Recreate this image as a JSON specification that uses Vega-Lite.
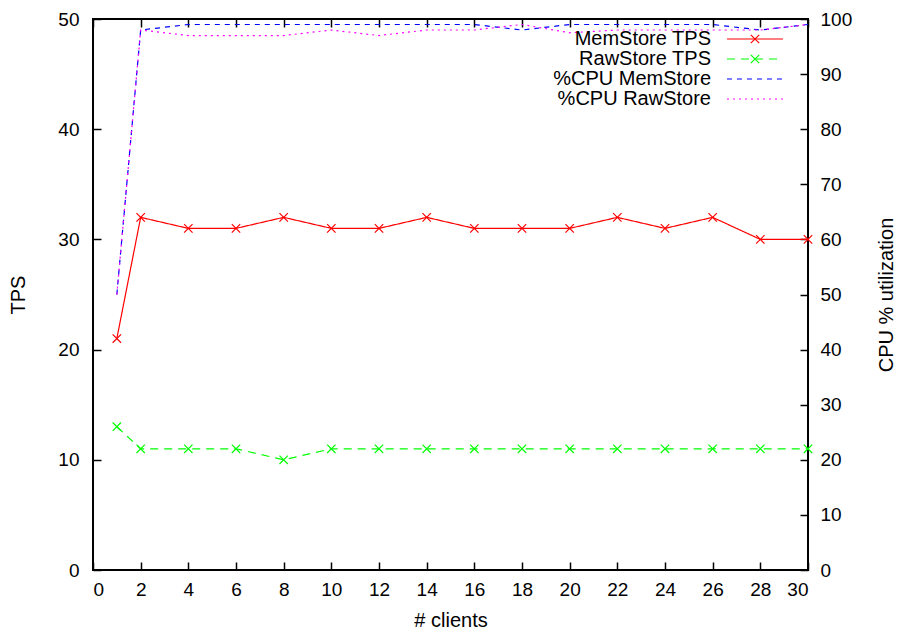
{
  "$schema": "https://vega.github.io/schema/vega-lite/v6.json",
  "width": 715,
  "height": 551,
  "autosize": {"type": "none"},
  "padding": {"left": 93, "top": 19, "right": 90, "bottom": 60},
  "background": "white",
  "config": {
    "view": {"stroke": "#000", "strokeWidth": 2},
    "font": "Liberation Sans",
    "axis": {
      "domain": false, "grid": false, "tickColor": "#000", "tickWidth": 1.5, "tickSize": -8,
      "labelFontSize": 19, "labelColor": "#000", "labelFont": "Liberation Sans",
      "titleFontSize": 20, "titleFontWeight": "normal", "titleColor": "#000", "titleFont": "Liberation Sans"
    },
    "legend": {
      "orient": "none", "padding": 0, "labelFontSize": 20, "labelFont": "Liberation Sans", "labelColor": "#000",
      "labelAlign": "right", "labelOffset": -54, "symbolSize": 196, "symbolStrokeWidth": 1.2,
      "rowPadding": 0, "legendX": 652, "legendY": 10, "labelLimit": 300
    }
  },
  "data": {
    "values": [
      {"clients": 1, "series": "MemStore TPS", "value": 21},
      {"clients": 2, "series": "MemStore TPS", "value": 32},
      {"clients": 4, "series": "MemStore TPS", "value": 31},
      {"clients": 6, "series": "MemStore TPS", "value": 31},
      {"clients": 8, "series": "MemStore TPS", "value": 32},
      {"clients": 10, "series": "MemStore TPS", "value": 31},
      {"clients": 12, "series": "MemStore TPS", "value": 31},
      {"clients": 14, "series": "MemStore TPS", "value": 32},
      {"clients": 16, "series": "MemStore TPS", "value": 31},
      {"clients": 18, "series": "MemStore TPS", "value": 31},
      {"clients": 20, "series": "MemStore TPS", "value": 31},
      {"clients": 22, "series": "MemStore TPS", "value": 32},
      {"clients": 24, "series": "MemStore TPS", "value": 31},
      {"clients": 26, "series": "MemStore TPS", "value": 32},
      {"clients": 28, "series": "MemStore TPS", "value": 30},
      {"clients": 30, "series": "MemStore TPS", "value": 30},
      {"clients": 1, "series": "RawStore TPS", "value": 13},
      {"clients": 2, "series": "RawStore TPS", "value": 11},
      {"clients": 4, "series": "RawStore TPS", "value": 11},
      {"clients": 6, "series": "RawStore TPS", "value": 11},
      {"clients": 8, "series": "RawStore TPS", "value": 10},
      {"clients": 10, "series": "RawStore TPS", "value": 11},
      {"clients": 12, "series": "RawStore TPS", "value": 11},
      {"clients": 14, "series": "RawStore TPS", "value": 11},
      {"clients": 16, "series": "RawStore TPS", "value": 11},
      {"clients": 18, "series": "RawStore TPS", "value": 11},
      {"clients": 20, "series": "RawStore TPS", "value": 11},
      {"clients": 22, "series": "RawStore TPS", "value": 11},
      {"clients": 24, "series": "RawStore TPS", "value": 11},
      {"clients": 26, "series": "RawStore TPS", "value": 11},
      {"clients": 28, "series": "RawStore TPS", "value": 11},
      {"clients": 30, "series": "RawStore TPS", "value": 11},
      {"clients": 1, "series": "%CPU MemStore", "value": 50},
      {"clients": 2, "series": "%CPU MemStore", "value": 98},
      {"clients": 4, "series": "%CPU MemStore", "value": 99},
      {"clients": 6, "series": "%CPU MemStore", "value": 99},
      {"clients": 8, "series": "%CPU MemStore", "value": 99},
      {"clients": 10, "series": "%CPU MemStore", "value": 99},
      {"clients": 12, "series": "%CPU MemStore", "value": 99},
      {"clients": 14, "series": "%CPU MemStore", "value": 99},
      {"clients": 16, "series": "%CPU MemStore", "value": 99},
      {"clients": 18, "series": "%CPU MemStore", "value": 98},
      {"clients": 20, "series": "%CPU MemStore", "value": 99},
      {"clients": 22, "series": "%CPU MemStore", "value": 99},
      {"clients": 24, "series": "%CPU MemStore", "value": 99},
      {"clients": 26, "series": "%CPU MemStore", "value": 99},
      {"clients": 28, "series": "%CPU MemStore", "value": 98},
      {"clients": 30, "series": "%CPU MemStore", "value": 99},
      {"clients": 1, "series": "%CPU RawStore", "value": 50},
      {"clients": 2, "series": "%CPU RawStore", "value": 98},
      {"clients": 4, "series": "%CPU RawStore", "value": 97},
      {"clients": 6, "series": "%CPU RawStore", "value": 97},
      {"clients": 8, "series": "%CPU RawStore", "value": 97},
      {"clients": 10, "series": "%CPU RawStore", "value": 98},
      {"clients": 12, "series": "%CPU RawStore", "value": 97},
      {"clients": 14, "series": "%CPU RawStore", "value": 98},
      {"clients": 16, "series": "%CPU RawStore", "value": 98},
      {"clients": 18, "series": "%CPU RawStore", "value": 99},
      {"clients": 20, "series": "%CPU RawStore", "value": 97.5},
      {"clients": 22, "series": "%CPU RawStore", "value": 98},
      {"clients": 24, "series": "%CPU RawStore", "value": 98},
      {"clients": 26, "series": "%CPU RawStore", "value": 98},
      {"clients": 28, "series": "%CPU RawStore", "value": 98},
      {"clients": 30, "series": "%CPU RawStore", "value": 99}
    ]
  },
  "layer": [
    {
      "transform": [{"filter": "datum.series === 'MemStore TPS' || datum.series === 'RawStore TPS'"}],
      "mark": {"type": "line", "strokeWidth": 1.2, "clip": true},
      "encoding": {
        "x": {"field": "clients", "type": "quantitative", "scale": {"domain": [0, 30], "nice": false},
              "axis": {"orient": "bottom", "values": [0,2,4,6,8,10,12,14,16,18,20,22,24,26,28,30], "title": "# clients", "labelPadding": 18, "titlePadding": 11}},
        "y": {"field": "value", "type": "quantitative", "scale": {"domain": [0, 50], "nice": false},
              "axis": {"orient": "left", "values": [0,10,20,30,40,50], "title": "TPS", "labelPadding": 22, "titlePadding": 29}},
        "color": {"field": "series", "type": "nominal",
                  "scale": {"domain": ["MemStore TPS", "RawStore TPS", "%CPU MemStore", "%CPU RawStore"], "range": ["#ff0000", "#00ff00", "#0000ff", "#ff00ff"]},
                  "legend": {"title": null, "symbolType": "M-4,0L4,0"}},
        "strokeDash": {"field": "series", "type": "nominal",
                  "scale": {"domain": ["MemStore TPS", "RawStore TPS", "%CPU MemStore", "%CPU RawStore"], "range": [[1, 0], [8, 6], [5, 5], [2, 4]]},
                  "legend": {"title": null}}
      }
    },
    {
      "transform": [{"filter": "datum.series === 'MemStore TPS' || datum.series === 'RawStore TPS'"}],
      "mark": {"type": "point", "filled": false, "size": 196, "strokeWidth": 1.2, "opacity": 1, "clip": false},
      "encoding": {
        "x": {"field": "clients", "type": "quantitative", "scale": {"domain": [0, 30], "nice": false}, "axis": null},
        "y": {"field": "value", "type": "quantitative", "scale": {"domain": [0, 50], "nice": false}, "axis": null},
        "stroke": {"field": "series", "type": "nominal",
                  "scale": {"domain": ["MemStore TPS", "RawStore TPS"], "range": ["#ff0000", "#00ff00"]},
                  "legend": {"title": null, "labelOpacity": 0, "symbolStrokeWidth": 1.2}},
        "shape": {"field": "series", "type": "nominal",
                  "scale": {"domain": ["MemStore TPS", "RawStore TPS"], "range": ["M-0.6,-0.6L0.6,0.6M0.6,-0.6L-0.6,0.6", "M-0.6,-0.6L0.6,0.6M0.6,-0.6L-0.6,0.6"]},
                  "legend": {"title": null, "labelOpacity": 0, "symbolStrokeWidth": 1.2}}
      }
    },
    {
      "transform": [{"filter": "datum.series === '%CPU MemStore' || datum.series === '%CPU RawStore'"}],
      "mark": {"type": "line", "strokeWidth": 1.2, "clip": true},
      "encoding": {
        "x": {"field": "clients", "type": "quantitative", "scale": {"domain": [0, 30], "nice": false},
              "axis": {"orient": "top", "values": [0,2,4,6,8,10,12,14,16,18,20,22,24,26,28,30], "labels": false, "title": null}},
        "y": {"field": "value", "type": "quantitative", "scale": {"domain": [0, 100], "nice": false},
              "axis": {"orient": "right", "values": [0,10,20,30,40,50,60,70,80,90,100], "title": "CPU % utilization", "titleAngle": 270, "labelPadding": 20, "titlePadding": 45}},
        "color": {"field": "series", "type": "nominal",
                  "scale": {"domain": ["MemStore TPS", "RawStore TPS", "%CPU MemStore", "%CPU RawStore"], "range": ["#ff0000", "#00ff00", "#0000ff", "#ff00ff"]},
                  "legend": {"title": null, "symbolType": "M-4,0L4,0"}},
        "strokeDash": {"field": "series", "type": "nominal",
                  "scale": {"domain": ["MemStore TPS", "RawStore TPS", "%CPU MemStore", "%CPU RawStore"], "range": [[1, 0], [8, 6], [5, 5], [2, 4]]},
                  "legend": {"title": null}}
      }
    }
  ],
  "resolve": {"scale": {"x": "independent", "y": "independent"}}
}
